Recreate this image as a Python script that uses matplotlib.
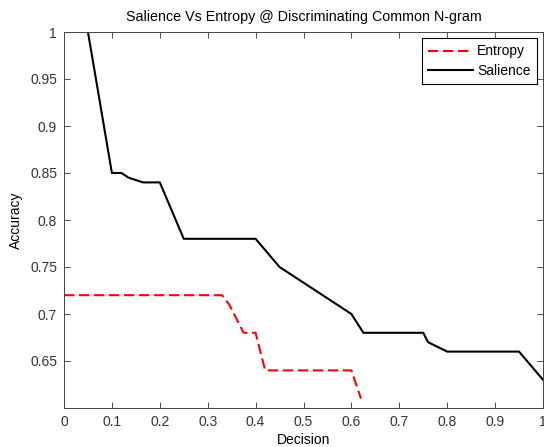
import matplotlib
matplotlib.use('Agg')
import matplotlib.pyplot as plt

plt.rcParams['font.family'] = ['Liberation Sans', 'DejaVu Sans']

entropy_x = [0.0, 0.33, 0.345, 0.375, 0.40, 0.42, 0.60, 0.62]
entropy_y = [0.72, 0.72, 0.71, 0.68, 0.68, 0.64, 0.64, 0.61]

salience_x = [0.05, 0.10, 0.12, 0.135, 0.165, 0.20, 0.25, 0.40, 0.45, 0.60,
              0.625, 0.75, 0.76, 0.80, 0.95, 1.0]
salience_y = [1.0, 0.85, 0.85, 0.845, 0.84, 0.84, 0.78, 0.78, 0.75, 0.70,
              0.68, 0.68, 0.67, 0.66, 0.66, 0.63]

xticks = [0, 0.1, 0.2, 0.3, 0.4, 0.5, 0.6, 0.7, 0.8, 0.9, 1]
xtick_labels = ['0', '0.1', '0.2', '0.3', '0.4', '0.5', '0.6', '0.7', '0.8', '0.9', '1']
yticks = [0.65, 0.7, 0.75, 0.8, 0.85, 0.9, 0.95, 1.0]
ytick_labels = ['0.65', '0.7', '0.75', '0.8', '0.85', '0.9', '0.95', '1']

fig = plt.figure(figsize=(5.44, 4.47), dpi=100)
ax = fig.add_axes([64 / 544, 1 - 408 / 447, 479 / 544, 376 / 447])

ax.plot(entropy_x, entropy_y, color='red', linestyle='--', linewidth=1.5,
        dashes=(5, 2.2), label='Entropy')
ax.plot(salience_x, salience_y, color='black', linewidth=1.5, label='Salience')

ax.set_xlim(0, 1)
ax.set_ylim(0.6, 1)
ax.set_xticks(xticks)
ax.set_xticklabels(xtick_labels)
ax.set_yticks(yticks)
ax.set_yticklabels(ytick_labels)
ax.tick_params(direction='in', top=True, right=True, length=4, width=0.6,
               labelsize=10, colors='#333333', pad=5)
for s in ax.spines.values():
    s.set_color('#444444')
    s.set_linewidth(0.7)

ax.set_xlabel('Decision', fontsize=10, labelpad=3)
ax.set_ylabel('Accuracy', fontsize=10, labelpad=5)
ax.set_title('Salience Vs Entropy @ Discriminating Common N-gram', fontsize=10.3, pad=8)

leg = ax.legend(loc='upper right', fontsize=10, fancybox=False, framealpha=1,
                edgecolor='black', handlelength=3.2, handletextpad=0.3,
                labelspacing=0.4, borderpad=0.45, borderaxespad=0.45)
leg.get_frame().set_linewidth(0.8)

fig.savefig('out.png', dpi=100)
